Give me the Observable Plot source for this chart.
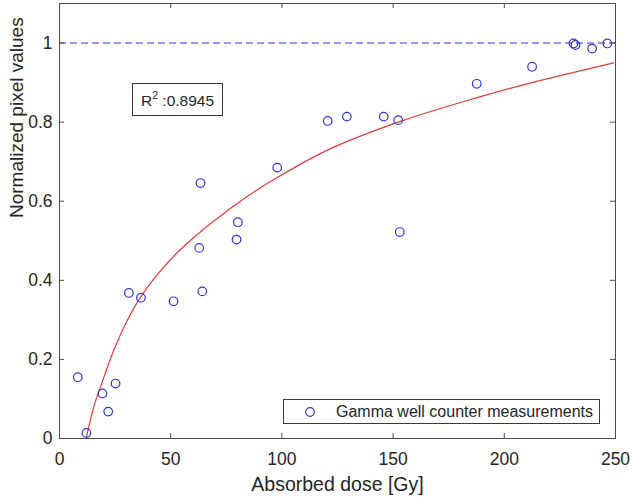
<!DOCTYPE html>
<html>
<head>
<meta charset="utf-8">
<script src="https://cdn.jsdelivr.net/npm/d3@7"></script>
<script src="https://cdn.jsdelivr.net/npm/@observablehq/plot@0.6"></script>
<style>
  body { margin: 0; background: #fff; }
  #wrap { position: relative; width: 633px; height: 498px; font-family: "Liberation Sans", Arial, sans-serif; color: #262626; }
  #wrap svg { display: block; }
  .box { position: absolute; background: #fff; border: 1px solid #3a3a3a; box-sizing: border-box; white-space: nowrap; }
  #r2 { left: 132px; top: 83px; width: 91px; height: 33px; font-size: 15.5px; padding-left: 8px; line-height: 33px; }
  #r2 sup { font-size: 10.5px; line-height: 0; position: relative; top: -1px; }
  #legend { left: 283px; top: 399px; width: 317px; height: 25px; font-size: 16px; line-height: 23px; }
  #legend svg { position: absolute; left: 20px; top: 6px; }
  #legend span { position: absolute; left: 52px; top: 0; }
</style>
</head>
<body>
<div id="wrap"></div>
<script>
// Measured points (Gamma well counter measurements)
const dose = [8.2, 12.1, 19.3, 21.9, 25.2, 31.2, 36.6, 51.3, 62.8, 63.4, 64.2, 79.6, 80.2, 97.9, 120.6, 129.2, 145.8, 152.3, 153.0, 187.6, 212.5, 231.1, 232.0, 239.5, 246.3];
const pixelValue = [0.155, 0.014, 0.114, 0.068, 0.139, 0.368, 0.356, 0.347, 0.482, 0.646, 0.372, 0.503, 0.547, 0.685, 0.803, 0.814, 0.814, 0.805, 0.522, 0.897, 0.940, 0.999, 0.995, 0.986, 0.999];

// Fitted curve
const fitDose = [12.0, 15.4, 18.4, 24.4, 30.4, 36.4, 45.4, 54.4, 69.4, 84.4, 97.9, 121.9, 153.3, 187.8, 212.5, 249.2];
const fitValue = [0, 0.080, 0.130, 0.223, 0.298, 0.357, 0.424, 0.478, 0.550, 0.612, 0.660, 0.733, 0.802, 0.862, 0.900, 0.950];

// Reference level, ticks and texts
const referenceLevel = [1];
const xTicks = [0, 50, 100, 150, 200, 250];
const yTicks = [0, 0.2, 0.4, 0.6, 0.8, 1];
const xLabel = "Absorbed dose [Gy]";
const yLabel = "Normalized pixel values";
const r2Value = "0.8945";
const legendLabel = "Gamma well counter measurements";

const points = dose.map((d, i) => ({dose: d, value: pixelValue[i]}));
const fit = fitDose.map((d, i) => ({dose: d, value: fitValue[i]}));

const axisColor = "#4d4d4d";
const blue = "#3434d6";
const red = "#e0393b";

const chart = Plot.plot({
  width: 633,
  height: 498,
  marginLeft: 59,
  marginRight: 18,
  marginTop: 3,
  marginBottom: 60,
  style: {fontFamily: '"Liberation Sans", Arial, sans-serif', fontSize: "17.5px", color: "#262626", background: "#fff"},
  x: {domain: [0, 250]},
  y: {domain: [0, 1.1]},
  marks: [
    Plot.ruleY(referenceLevel, {stroke: blue, strokeDasharray: "7,4", strokeWidth: 1}),
    Plot.line(fit, {x: "dose", y: "value", stroke: red, strokeWidth: 1.2, curve: "catmull-rom"}),
    Plot.dot(points, {x: "dose", y: "value", r: 4.3, stroke: blue, strokeWidth: 1.2, fill: "none"}),
    Plot.frame({stroke: axisColor}),
    // inward tick marks on all four sides
    Plot.ruleX(xTicks, {x: d => d, insetTop: 430, stroke: axisColor}),
    Plot.ruleX(xTicks, {x: d => d, insetBottom: 430, stroke: axisColor}),
    Plot.ruleY(yTicks, {y: d => d, insetRight: 551, stroke: axisColor}),
    Plot.ruleY(yTicks, {y: d => d, insetLeft: 551, stroke: axisColor}),
    Plot.axisX(xTicks, {anchor: "bottom", tickSize: 0, tickPadding: 14, label: null, fill: "#262626", tickFormat: d => String(d)}),
    Plot.axisY(yTicks, {anchor: "left", tickSize: 0, tickPadding: 7, label: null, fill: "#262626", tickFormat: d => String(d)}),
    Plot.text([xLabel], {frameAnchor: "bottom", dy: 52, lineAnchor: "bottom", fontSize: 19.5, fill: "#262626"}),
    Plot.text([yLabel], {frameAnchor: "left", dx: -37, dy: -3, rotate: -90, lineAnchor: "bottom", fontSize: 19, fill: "#262626"})
  ]
});

const wrap = document.getElementById("wrap");
wrap.appendChild(chart);

const r2 = document.createElement("div");
r2.id = "r2";
r2.className = "box";
r2.innerHTML = "R<sup>2</sup> :" + r2Value;
wrap.appendChild(r2);

const legend = document.createElement("div");
legend.id = "legend";
legend.className = "box";
legend.innerHTML = `<svg width="12" height="12"><circle cx="6" cy="6" r="4.3" fill="none" stroke="${blue}" stroke-width="1.2"/></svg><span></span>`;
legend.querySelector("span").textContent = legendLabel;
wrap.appendChild(legend);
</script>
</body>
</html>
